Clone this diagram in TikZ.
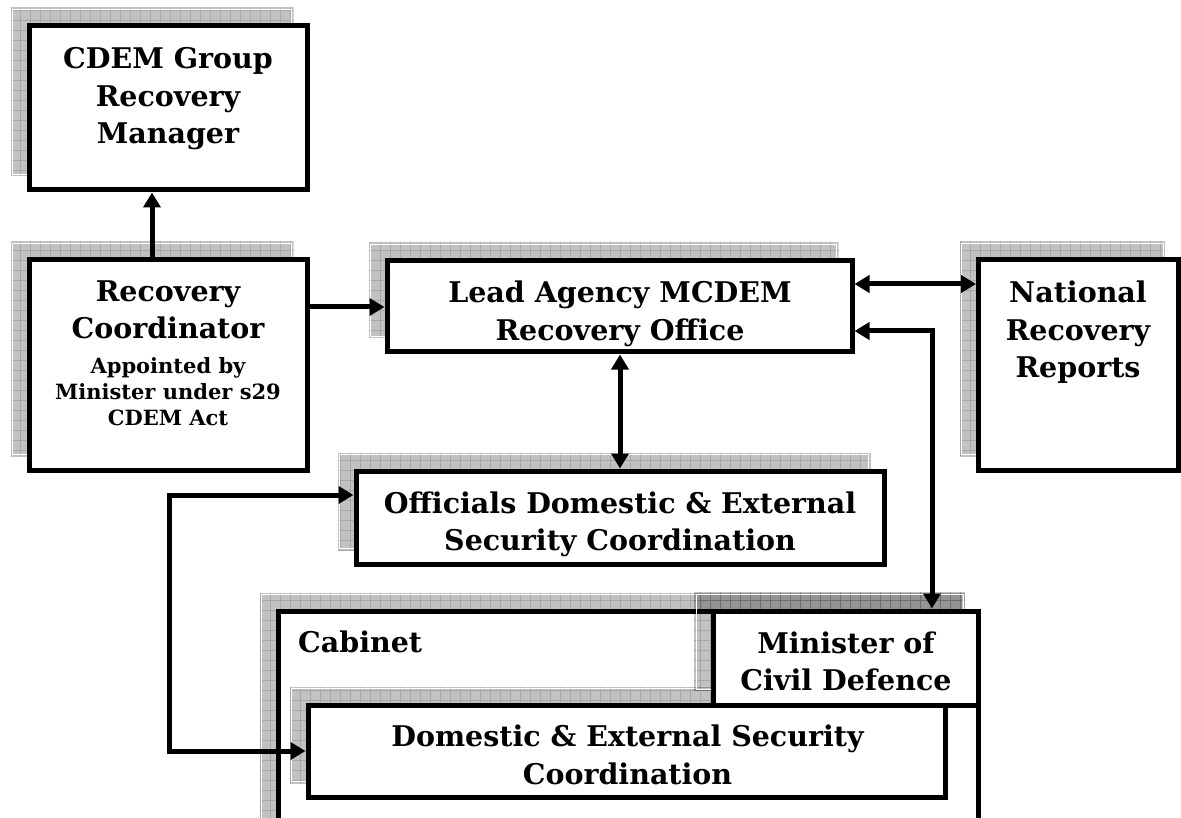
\documentclass[tikz,border=0pt]{standalone}
\usepackage{fontspec}
\setmainfont{DejaVu Serif}
\usetikzlibrary{arrows.meta}

\newcommand\shbox[4]{%
  \begin{scope}
    \clip (#1,#2) rectangle (#3,#4);
    \fill[black,fill opacity=0.24] (#1,#2) rectangle (#3,#4);
    \draw[black,opacity=0.14,line width=0.7pt,xstep=10pt,ystep=10pt] (#1,#2) grid (#3,#4);
    \draw[white,line width=0.9pt] (#1+2,#2+2) rectangle (#3-2,#4-2);
  \end{scope}}

\tikzset{
  box/.style={draw, line width=5pt, fill=white, inner sep=0pt},
  big/.style={font=\fontsize{28.5}{37.5}\selectfont\bfseries, align=center, inner sep=0pt},
  small/.style={font=\fontsize{21}{26}\selectfont\bfseries, align=center, inner sep=0pt},
  conn/.style={line width=5pt},
  >={Triangle[length=15pt,width=17pt]}
}

\begin{document}
\begin{tikzpicture}[x=1pt,y=-1pt]
\useasboundingbox (0,0) rectangle (1181,818);
\clip (0,0) rectangle (1181,818);

% shadows
\shbox{10.5}{7.5}{293.5}{176.5}
\shbox{10.5}{241.5}{293.5}{456.5}
\shbox{368.5}{242.5}{838.5}{338.5}
\shbox{959.5}{241.5}{1165}{456.5}
\shbox{337.5}{452.5}{870.5}{550.5}
\shbox{259.5}{592.5}{964.5}{900}

% boxes
\node[box, minimum width=278, minimum height=164] (cdem) at (168,108) {};
\node[box, minimum width=278, minimum height=210] (rc) at (168,365) {};
\node[box, minimum width=465, minimum height=91] (lead) at (619.5,306.5) {};
\node[box, minimum width=200, minimum height=210] (nat) at (1078.5,365) {};
\node[box, minimum width=528, minimum height=93] (off) at (620,517.5) {};
\node[box, minimum width=700, minimum height=260] (cab) at (628,741) {};

\shbox{289.5}{686.5}{931.5}{783.5}
\shbox{694}{592}{965}{691}

\node[box, minimum width=265, minimum height=94] (min) at (845.5,658) {};
\node[box, minimum width=637, minimum height=92] (dom) at (626.5,751) {};

% texts
\node[big] (cdemT) at (168,99) {CDEM Group\\Recovery\\Manager};
\node[big] (rcT1) at (168,310) {Recovery\\Coordinator};
\node[small] (rcT2) at (168,392) {Appointed by\\Minister under s29\\CDEM Act};
\node[big] (leadT) at (620,314) {Lead Agency MCDEM\\Recovery Office};
\node[big] (natT) at (1078,332.5) {National\\Recovery\\Reports};
\node[big] (offT) at (620,524.5) {Officials Domestic \& External\\Security Coordination};
\node[big, anchor=west] (cabT) at (298,642) {Cabinet};
\node[big] (minT) at (846,661.5) {Minister of\\Civil Defence};
\node[big] (domT) at (627.5,755) {Domestic \& External Security\\Coordination};

% connector helper coordinates
\coordinate (c1) at (152,0);
\coordinate (c2) at (0,307);
\coordinate (c3) at (0,284);
\coordinate (c4) at (932,331);
\coordinate (c5) at (620,0);
\coordinate (c6) at (169,495);
\coordinate (c7) at (169,751);

% connectors
\draw[conn,->] (rc.north -| c1) -- (cdem.south -| c1);
\draw[conn,->] (rc.east |- c2) -- (lead.west |- c2);
\draw[conn,<->] (lead.east |- c3) -- (nat.west |- c3);
\draw[conn,<->] (lead.east |- c4) -| (min.north -| c4);
\draw[conn,<->] (lead.south -| c5) -- (off.north -| c5);
\draw[conn,<->] (off.west |- c6) -- (c6) -- (c7) -- (dom.west |- c7);
\end{tikzpicture}
\end{document}
